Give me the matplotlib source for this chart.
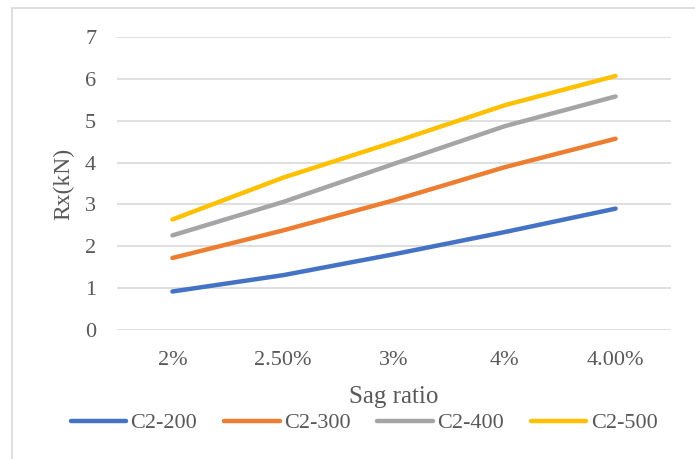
import matplotlib
matplotlib.use("Agg")
import matplotlib.pyplot as plt
from matplotlib.patches import Rectangle

categories = ["2%", "2.50%", "3%", "4%", "4.00%"]
series_names = ["C2-200", "C2-300", "C2-400", "C2-500"]
c2_200 = [0.92, 1.31, 1.81, 2.34, 2.90]
c2_300 = [1.72, 2.38, 3.10, 3.89, 4.57]
c2_400 = [2.26, 3.06, 3.97, 4.87, 5.58]
c2_500 = [2.64, 3.64, 4.49, 5.37, 6.07]
colors = ["#4472C4", "#ED7D31", "#A5A5A5", "#FFC000"]
y_ticks = [0, 1, 2, 3, 4, 5, 6, 7]

text_color = "#595959"
plt.rcParams["font.family"] = ["Liberation Serif", "DejaVu Serif"]

W, H = 695, 459
fig = plt.figure(figsize=(W / 100, H / 100), dpi=100)
ax = fig.add_axes([117 / W, 1 - 330 / H, (671 - 117) / W, (330 - 37) / H])

# chart-area border
fig.patches.append(Rectangle((12 / W, -0.1), 1.2, 1 - 7.5 / H + 0.1,
                             transform=fig.transFigure, fill=False,
                             edgecolor="#D9D9D9", linewidth=1.2))

x = list(range(len(categories)))
for vals, name, col in zip([c2_200, c2_300, c2_400, c2_500], series_names, colors):
    ax.plot(x, vals, color=col, linewidth=3.2, solid_capstyle="round",
            solid_joinstyle="round", label=name, zorder=3)

ax.set_xlim(-0.5, len(categories) - 0.5)
ax.set_ylim(0, 7)
ax.set_yticks(y_ticks)
ax.set_xticks(x)
ax.set_xticklabels(categories)
ax.grid(axis="y", color="#D9D9D9", linewidth=1.2)
ax.set_axisbelow(True)
for s in ax.spines.values():
    s.set_visible(False)
ax.tick_params(axis="both", length=0, labelsize=16, colors=text_color)
ax.tick_params(axis="y", pad=15)
ax.tick_params(axis="x", pad=15)

ax.set_xlabel("Sag ratio", fontsize=18, color=text_color, labelpad=12)
ax.set_ylabel("Rx(kN)", fontsize=17, color=text_color, labelpad=8)

leg = fig.legend(loc="center", bbox_to_anchor=(364 / W, 1 - 423 / H), ncol=4,
                 frameon=False, fontsize=16, handlelength=2.5,
                 handletextpad=0.2, columnspacing=1.2, borderaxespad=0)
for t in leg.get_texts():
    t.set_color(text_color)
for h in leg.get_lines():
    h.set_linewidth(3.2)
    h.set_solid_capstyle("round")

fig.savefig("out.png", dpi=100)
